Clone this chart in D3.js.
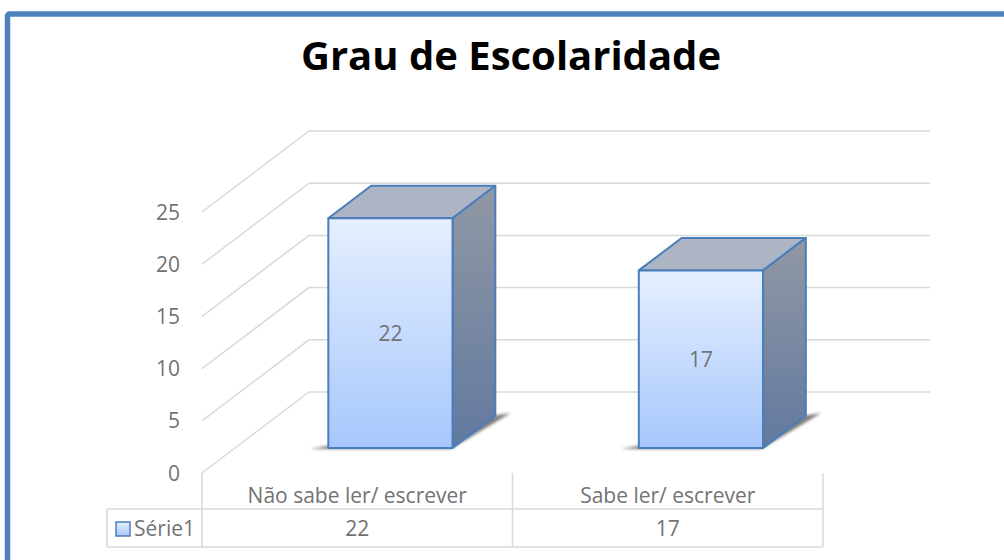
<!DOCTYPE html>
<html>
<head>
<meta charset="utf-8">
<script src="https://cdn.jsdelivr.net/npm/d3@7"></script>
<style>
  body { margin: 0; background: #fff; }
  svg { display: block; font-family: "Open Sans", sans-serif; }
</style>
</head>
<body>
<svg width="1004" height="560"></svg>
<script>
const title = "Grau de Escolaridade";
const categories = ["Não sabe ler/ escrever", "Sabe ler/ escrever"];
const values = [22, 17];
const seriesName = "Série1";
const yTicks = [0, 5, 10, 15, 20, 25];

const svg = d3.select("svg");

// outer frame
svg.append("rect")
  .attr("x", 7.5).attr("y", 14)
  .attr("width", 1100).attr("height", 600)
  .attr("rx", 2)
  .attr("fill", "none")
  .attr("stroke", "#4f81bd")
  .attr("stroke-width", 5.5);

svg.append("text")
  .attr("x", 511).attr("y", 70)
  .attr("text-anchor", "middle")
  .attr("font-size", 40)
  .attr("font-weight", 700)
  .attr("fill", "#000")
  .text(title);

// plot geometry (front plane + depth offset)
const left = 202, right = 823;
const depthX = 107, depthY = -81;

const xScale = d3.scaleBand()
  .domain(categories)
  .range([left, right])
  .paddingInner(0.6)
  .paddingOuter(0.3);

const yScale = d3.scaleLinear()
  .domain([0, 25])
  .range([473, 212]);

const project = (x, v, d) => [x + d * depthX, yScale(v) + d * depthY];

const defs = svg.append("defs");

const addGrad = (id, c0, c1) => {
  const g = defs.append("linearGradient")
    .attr("id", id).attr("x1", 0).attr("y1", 0).attr("x2", 0).attr("y2", 1);
  g.append("stop").attr("offset", "0%").attr("stop-color", c0);
  g.append("stop").attr("offset", "100%").attr("stop-color", c1);
};
addGrad("frontGrad", "#e5efff", "#a7c7fc");
addGrad("sideGrad", "#9198a5", "#62799f");
addGrad("legendGrad", "#e5efff", "#a7c7fc");

defs.append("filter").attr("id", "blur")
  .attr("x", "-20%").attr("y", "-50%").attr("width", "140%").attr("height", "200%")
  .append("feGaussianBlur").attr("stdDeviation", 1.8);

// gridlines: side wall diagonal + back wall horizontal
const grid = svg.append("g")
  .attr("fill", "none")
  .attr("stroke", "#d9d9d9")
  .attr("stroke-width", 1.5);

grid.selectAll("polyline")
  .data(yTicks)
  .join("polyline")
  .attr("points", (v) => [project(left, v, 0), project(left, v, 1), project(right, v, 1)].join(" "));

// y axis labels
svg.append("g")
  .selectAll("text")
  .data(yTicks)
  .join("text")
  .attr("x", 180)
  .attr("y", (v) => yScale(v) + 2)
  .attr("text-anchor", "end")
  .attr("dominant-baseline", "middle")
  .attr("font-size", 21)
  .attr("fill", "#737373")
  .text((d) => d);

// bars
const d0 = 0.31, d1 = 0.71;
const bars = svg.append("g")
  .selectAll("g")
  .data(categories.map((c, i) => ({ c, v: values[i] })))
  .join("g");

const pts = (arr) => arr.map((p) => p.join(",")).join(" ");

// soft floor shadow
bars.append("polygon")
  .attr("points", (d) => {
    const x0 = xScale(d.c), x1 = x0 + xScale.bandwidth();
    return pts([project(x0 - 16, 0, d0 - 0.015), project(x1, 0, d0 - 0.015),
      project(x1 + 12, 0, d1 + 0.03), project(x1, 0, d1)]);
  })
  .attr("fill", "#444")
  .attr("opacity", 0.7)
  .attr("filter", "url(#blur)");

const face = (sel, fill, fn) => sel.append("polygon")
  .attr("points", fn)
  .attr("fill", fill)
  .attr("stroke", "#4a7ebb")
  .attr("stroke-width", 2)
  .attr("stroke-linejoin", "round");

face(bars, "#adb4c3", (d) => {
  const x0 = xScale(d.c), x1 = x0 + xScale.bandwidth();
  return pts([project(x0, d.v, d0), project(x1, d.v, d0), project(x1, d.v, d1), project(x0, d.v, d1)]);
});
face(bars, "url(#sideGrad)", (d) => {
  const x1 = xScale(d.c) + xScale.bandwidth();
  return pts([project(x1, d.v, d0), project(x1, d.v, d1), project(x1, 0, d1), project(x1, 0, d0)]);
});
face(bars, "url(#frontGrad)", (d) => {
  const x0 = xScale(d.c), x1 = x0 + xScale.bandwidth();
  return pts([project(x0, d.v, d0), project(x1, d.v, d0), project(x1, 0, d0), project(x0, 0, d0)]);
});

bars.append("text")
  .attr("x", (d) => xScale(d.c) + xScale.bandwidth() / 2 + d0 * depthX)
  .attr("y", (d) => (yScale(d.v) + yScale(0)) / 2 + d0 * depthY + 2)
  .attr("text-anchor", "middle")
  .attr("dominant-baseline", "middle")
  .attr("font-size", 21)
  .attr("fill", "#737373")
  .text((d) => d.v);

// data table
const tableLeft = 107, rowTop = 509, rowBottom = 547;
const table = svg.append("g")
  .attr("stroke", "#d9d9d9")
  .attr("stroke-width", 1.5);

const colEdges = [left, ...categories.map((c) => xScale(c) + xScale.bandwidth() / 2 + xScale.step() / 2)];
table.selectAll("line.v")
  .data(colEdges)
  .join("line")
  .attr("class", "v")
  .attr("x1", (x) => x).attr("x2", (x) => x)
  .attr("y1", yScale(0)).attr("y2", rowBottom);
table.append("line").attr("x1", tableLeft).attr("x2", tableLeft).attr("y1", rowTop).attr("y2", rowBottom);
table.append("line").attr("x1", tableLeft).attr("x2", right).attr("y1", rowTop).attr("y2", rowTop);
table.append("line").attr("x1", tableLeft).attr("x2", right).attr("y1", rowBottom).attr("y2", rowBottom);

const cellText = svg.append("g")
  .attr("font-size", 21)
  .attr("fill", "#737373")
  .attr("text-anchor", "middle");

cellText.selectAll("text.cat")
  .data(categories)
  .join("text")
  .attr("class", "cat")
  .attr("x", (c) => xScale(c) + xScale.bandwidth() / 2)
  .attr("y", 503)
  .text((c) => c);

cellText.selectAll("text.val")
  .data(categories.map((c, i) => ({ c, v: values[i] })))
  .join("text")
  .attr("class", "val")
  .attr("x", (d) => xScale(d.c) + xScale.bandwidth() / 2)
  .attr("y", 536)
  .text((d) => d.v);

// legend key in table
svg.append("rect")
  .attr("x", 116).attr("y", 522)
  .attr("width", 14).attr("height", 14)
  .attr("fill", "url(#legendGrad)")
  .attr("stroke", "#4a7ebb")
  .attr("stroke-width", 1.5);

svg.append("text")
  .attr("x", 134).attr("y", 536)
  .attr("font-size", 21)
  .attr("fill", "#737373")
  .text(seriesName);
</script>
</body>
</html>
